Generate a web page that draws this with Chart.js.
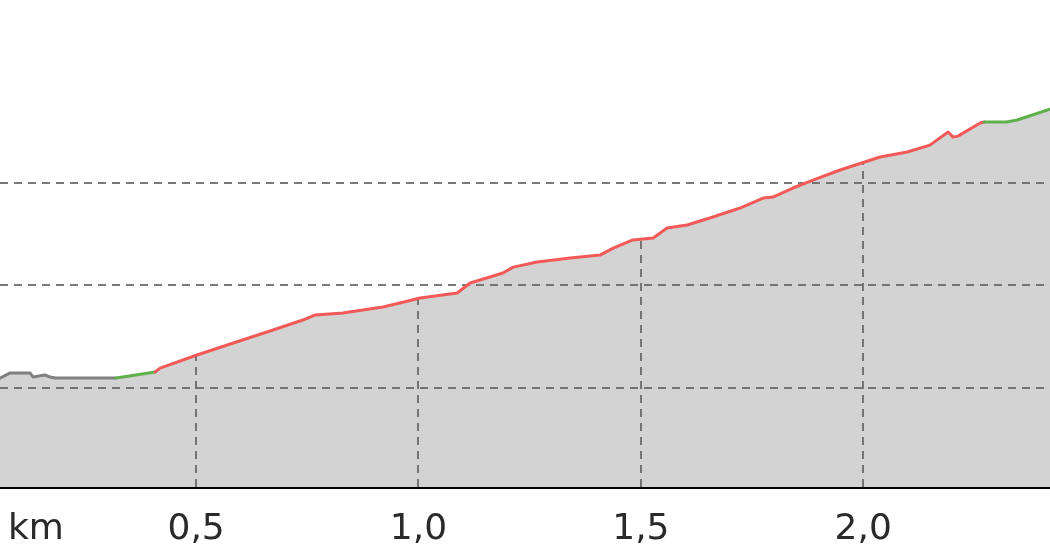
<!DOCTYPE html>
<html>
<head>
<meta charset="utf-8">
<script src="https://cdn.jsdelivr.net/npm/chart.js@4.4.1/dist/chart.umd.min.js"></script>
<style>
  html, body { margin: 0; padding: 0; background: #fff; }
  #wrap { width: 1050px; height: 560px; }
</style>
</head>
<body>
<div id="wrap"><canvas id="profile"></canvas></div>
<script>
// distance along the track (km) and elevation (m)
const km = [
    0.059, 0.082, 0.127, 0.133, 0.160, 0.172, 0.183, 0.320, 0.408, 0.419,
    0.502, 0.570, 0.673, 0.740, 0.768, 0.830, 0.875, 0.920, 0.958, 1.004,
    1.087, 1.116, 1.190, 1.213, 1.267, 1.341, 1.408, 1.438, 1.482, 1.528,
    1.559, 1.604, 1.662, 1.723, 1.775, 1.797, 1.842, 1.887, 1.948, 2.038,
    2.099, 2.150, 2.191, 2.202, 2.213, 2.263, 2.272, 2.323, 2.346, 2.420
];
const elevation = [
    204.7, 207.2, 207.2, 205.2, 206.2, 205.2, 204.7, 204.7, 207.7, 209.6,
    216.0, 220.9, 228.2, 233.1, 235.6, 236.5, 238.0, 239.5, 241.4, 243.9,
    246.3, 251.2, 256.1, 259.0, 261.5, 263.5, 264.9, 268.3, 272.3, 273.2,
    278.1, 279.6, 283.5, 287.9, 292.8, 293.3, 297.7, 301.6, 306.5, 312.9,
    315.3, 318.7, 325.1, 322.6, 323.1, 329.5, 330.0, 330.0, 331.0, 336.3
];

// grade classes along the track: where each one starts
const gradeStart = [0, 0.32, 0.405, 2.27];
const gradeClass = ['flat', 'easy', 'steep', 'easy'];
const gradeColor = { flat: '#808080', easy: '#5fb04a', steep: '#f25a5a' };

const kmTicks = [0.5, 1.0, 1.5, 2.0];
const elevTicks = [200, 250, 300];

function colorAt(x) {
    let c = gradeClass[0];
    for (let i = 0; i < gradeStart.length; i++) {
        if (x >= gradeStart[i]) c = gradeClass[i];
    }
    return gradeColor[c];
}

function elevAt(x) {
    for (let i = 1; i < km.length; i++) {
        if (x <= km[i]) {
            const t = (x - km[i - 1]) / (km[i] - km[i - 1]);
            return elevation[i - 1] + t * (elevation[i] - elevation[i - 1]);
        }
    }
    return elevation[elevation.length - 1];
}

// dashed grid: horizontal lines across, vertical lines only under the profile
const gridLines = {
    id: 'gridLines',
    beforeDatasetsDraw(chart) {
        const { ctx, chartArea, scales: { x, y } } = chart;
        ctx.save();
        ctx.strokeStyle = 'rgba(105,105,105,0.9)';
        ctx.lineWidth = 2;
        ctx.setLineDash([8, 6]);
        elevTicks.forEach(v => {
            const py = Math.round(y.getPixelForValue(v));
            ctx.beginPath();
            ctx.moveTo(chartArea.left, py);
            ctx.lineTo(chartArea.right, py);
            ctx.stroke();
        });
        kmTicks.forEach(v => {
            const px = Math.round(x.getPixelForValue(v));
            ctx.beginPath();
            ctx.moveTo(px, chartArea.bottom);
            ctx.lineTo(px, y.getPixelForValue(elevAt(v)));
            ctx.stroke();
        });
        ctx.restore();
    }
};

// "km" unit written on the same row as the tick labels
const kmLabel = {
    id: 'kmLabel',
    afterDraw(chart) {
        const { ctx } = chart;
        const xs = chart.scales.x;
        const item = xs.getLabelItems()[0];
        ctx.save();
        ctx.font = '36px "DejaVu Sans"';
        ctx.fillStyle = xs.options.ticks.color;
        ctx.textAlign = 'left';
        ctx.textBaseline = item.options.textBaseline;
        ctx.fillText('km', 8, item.options.translation[1] + (item.textOffset || 0));
        ctx.restore();
    }
};

const data = {
    datasets: [
        {
            // grey area under the profile
            data: km.map((v, i) => ({ x: v, y: elevation[i] })),
            backgroundColor: '#d3d3d3',
            fill: 'start',
            borderWidth: 0,
            pointRadius: 0,
            tension: 0,
        },
        {
            // profile line coloured by grade
            data: km.map((v, i) => ({ x: v, y: elevation[i] })),
            fill: false,
            borderWidth: 3,
            borderJoinStyle: 'round',
            borderCapStyle: 'round',
            pointRadius: 0,
            tension: 0,
            segment: {
                borderColor: ctx => colorAt(ctx.p0.parsed.x),
            },
        },
    ]
};

const config = {
    type: 'line',
    data: data,
    options: {
        responsive: true,
        maintainAspectRatio: false,
        animation: false,
        layout: { padding: 0 },
        plugins: {
            legend: { display: false },
            tooltip: { enabled: false },
            filler: { drawTime: 'beforeDatasetsDraw' },
        },
        scales: {
            x: {
                type: 'linear',
                min: 0.059,
                max: 2.42,
                afterBuildTicks: s => { s.ticks = kmTicks.map(v => ({ value: v })); },
                afterFit: s => { s.height = 73; },
                grid: { display: false },
                border: { color: '#000', width: 3 },
                ticks: {
                    padding: 13,
                    color: '#2a2a2a',
                    font: { family: 'DejaVu Sans', size: 36 },
                    autoSkip: false,
                    maxRotation: 0,
                    callback: v => v.toFixed(1).replace('.', ','),
                },
            },
            y: {
                display: false,
                min: 151.4,
                max: 389.7,
            },
        },
    },
    plugins: [gridLines, kmLabel],
};

const myChart = new Chart(document.getElementById('profile'), config);
</script>
</body>
</html>
